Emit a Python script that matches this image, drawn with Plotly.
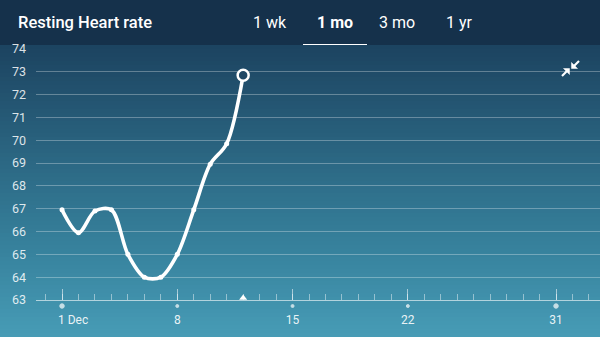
import plotly.graph_objects as go

# ---- data ----
days = [1, 2, 3, 4, 5, 6, 7, 8, 9, 10, 11, 12]
heart_rate = [66.95, 65.95, 66.9, 66.95, 65.0, 64.0, 64.0, 65.0, 66.95, 68.95, 69.85, 72.85]
x_tick_vals = [1, 8, 15, 22, 31]
x_tick_text = ["", "8", "15", "22", "31"]
first_label = "1 Dec"
y_tick_vals = [63, 64, 65, 66, 67, 68, 69, 70, 71, 72, 73, 74]
today = 12
tabs = ["1 wk", "1 mo", "3 mo", "1 yr"]
title = "Resting Heart rate"

W, H = 600, 337
ML, MR, MT, MB = 36, 0, 49, 0
AXIS_PY = 300
PH = H - MT - MB
main_bottom = (H - AXIS_PY) / PH


def py2paper(py):
    return (H - MB - py) / PH


def px2paper(px):
    return (px - ML) / (W - ML - MR)


def lerp(c1, c2, t):
    return tuple(int(round(a + (b - a) * t)) for a, b in zip(c1, c2))


shapes = []
# gradient background
stops = [(45, (0x1c, 0x43, 0x60)), (150, (0x2a, 0x64, 0x80)),
         (250, (0x37, 0x82, 0x9d)), (337, (0x47, 0x9c, 0xb6))]
step = 4
y = 45
while y < H:
    y2 = min(y + step, H)
    mid = (y + y2) / 2
    for i in range(len(stops) - 1):
        if stops[i][0] <= mid <= stops[i + 1][0]:
            t = (mid - stops[i][0]) / (stops[i + 1][0] - stops[i][0])
            c = lerp(stops[i][1], stops[i + 1][1], t)
            break
    shapes.append(dict(type="rect", xref="paper", yref="paper", layer="below",
                       x0=px2paper(0), x1=px2paper(W), y0=py2paper(y2 + 0.5), y1=py2paper(y),
                       fillcolor="rgb(%d,%d,%d)" % c, line=dict(width=0)))
    y = y2
# header band
shapes.append(dict(type="rect", xref="paper", yref="paper", layer="below",
                   x0=px2paper(0), x1=px2paper(W), y0=py2paper(45), y1=py2paper(0),
                   fillcolor="#15314b", line=dict(width=0)))
# tab underline
shapes.append(dict(type="line", xref="paper", yref="paper",
                   x0=px2paper(303), x1=px2paper(367), y0=py2paper(44.5), y1=py2paper(44.5),
                   line=dict(color="white", width=1.2)))
# collapse icon (two inward arrows)
for (ax0, ay0, ax1, ay1, tip) in [(579, 61, 574, 66, [(571.5, 68.5), (571.5, 62.5), (577.5, 68.5)]),
                                   (562, 76, 567, 71, [(569.5, 68.5), (569.5, 74.5), (563.5, 68.5)])]:
    shapes.append(dict(type="line", xref="paper", yref="paper",
                       x0=px2paper(ax0), y0=py2paper(ay0), x1=px2paper(ax1), y1=py2paper(ay1),
                       line=dict(color="white", width=2.2)))
    pts = " L".join("%f,%f" % (px2paper(a), py2paper(b)) for a, b in tip)
    shapes.append(dict(type="path", xref="paper", yref="paper", path="M" + pts + " Z",
                       fillcolor="white", line=dict(color="white", width=0.5)))

fig = go.Figure()
fig.add_trace(go.Scatter(x=days, y=heart_rate, mode="lines+markers",
                         line=dict(color="white", width=3.6, shape="spline", smoothing=0.9),
                         marker=dict(color="white", size=5), cliponaxis=False,
                         hoverinfo="skip"))
fig.add_trace(go.Scatter(x=[days[-1]], y=[heart_rate[-1]], mode="markers",
                         marker=dict(color="#1f4865", size=11, line=dict(color="white", width=2.5)),
                         cliponaxis=False, hoverinfo="skip"))
# today marker
fig.add_trace(go.Scatter(x=[today], y=[63.09], mode="markers",
                         marker=dict(color="white", size=7, symbol="triangle-up"),
                         cliponaxis=False, hoverinfo="skip"))
# dots under x labels (lower strip subplot)
fig.add_trace(go.Scatter(x=x_tick_vals, y=[31] * len(x_tick_vals), mode="markers",
                         xaxis="x2", yaxis="y2",
                         marker=dict(color="white", size=[4.5, 3, 3, 3, 4.5]),
                         cliponaxis=False, hoverinfo="skip"))

XR = [-0.58, 33.67]
fig.update_layout(
    width=W, height=H, margin=dict(l=ML, r=MR, t=MT, b=MB, autoexpand=False),
    paper_bgcolor="#15314b", plot_bgcolor="rgba(0,0,0,0)",
    showlegend=False, shapes=shapes,
    font=dict(family="Roboto", color="white"),
    xaxis=dict(range=XR, tickvals=x_tick_vals, ticktext=x_tick_text, anchor="y",
               ticks="inside", ticklen=11, tickcolor="rgba(255,255,255,0.55)", tickwidth=1,
               showgrid=False, zeroline=False, showline=True,
               linecolor="rgba(255,255,255,0.6)", linewidth=1,
               tickfont=dict(size=12, color="rgba(255,255,255,0.9)"),
               ticklabelstandoff=9,
               minor=dict(tick0=1, dtick=1, ticks="inside", ticklen=6,
                          tickcolor="rgba(255,255,255,0.45)", tickwidth=1, showgrid=False)),
    yaxis=dict(range=[63, 74], domain=[main_bottom, 1], tickvals=y_tick_vals, showgrid=True,
               gridcolor="rgba(255,255,255,0.3)", gridwidth=1, zeroline=False,
               showline=False, ticks="", ticklabelstandoff=9,
               tickfont=dict(size=12.5, color="rgba(255,255,255,0.85)")),
    xaxis2=dict(range=XR, anchor="y2", visible=False),
    yaxis2=dict(range=[0, H - AXIS_PY], domain=[0, main_bottom], visible=False),
)

fig.add_annotation(text=first_label, xref="x", yref="paper", x=0.68, y=py2paper(319.5),
                   xanchor="left", yanchor="middle", showarrow=False, borderpad=0,
                   font=dict(size=12, color="rgba(255,255,255,0.9)", family="Roboto"))
fig.add_annotation(text=title, xref="paper", yref="paper", x=px2paper(16), y=py2paper(22),
                   xanchor="left", yanchor="middle", showarrow=False,
                   font=dict(size=16.5, color="white", family="Roboto", weight=500))
tab_x = [270, 335, 397, 459]
for t, tx in zip(tabs, tab_x):
    bold = t == "1 mo"
    fig.add_annotation(text=t, xref="paper", yref="paper",
                       x=px2paper(tx), y=py2paper(22), xanchor="center", yanchor="middle",
                       showarrow=False,
                       font=dict(size=16, color="white", family="Roboto",
                                 weight=700 if bold else 400))

fig.write_html("out.html")
